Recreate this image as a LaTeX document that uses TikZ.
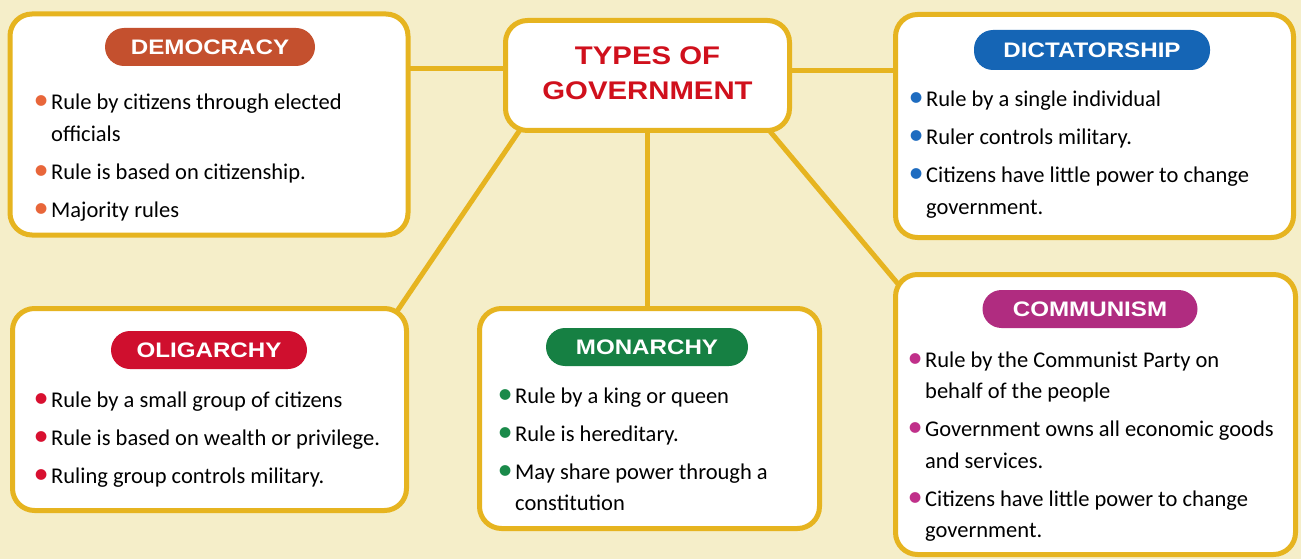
\documentclass[tikz,border=0pt]{standalone}
\usepackage{fontspec}
\setmainfont{Carlito}
\newfontfamily\headfont{Liberation Sans}[FakeStretch=1.15]
\usetikzlibrary{backgrounds,calc}

\definecolor{paper}{HTML}{F5EEC9}
\definecolor{gold}{HTML}{E6B420}
\definecolor{titlered}{HTML}{D0101C}
\definecolor{demc}{HTML}{C4502E}
\definecolor{demb}{HTML}{E8663A}
\definecolor{oligc}{HTML}{CF0F2E}
\definecolor{oligb}{HTML}{D81030}
\definecolor{monc}{HTML}{168043}
\definecolor{monb}{HTML}{1A8A4A}
\definecolor{dictc}{HTML}{1565B5}
\definecolor{dictb}{HTML}{1E6CC0}
\definecolor{commc}{HTML}{B02C80}
\definecolor{commb}{HTML}{C0308A}

% one bullet point: coloured dot, hanging indent for wrapped lines
\newcommand{\itm}[2]{\par\hangindent=14pt\hangafter=1\makebox[14pt][l]{\hspace{-3.5pt}\textcolor{#1}{\scalebox{1.35}{•}}}#2}
% a whole bullet list, top-aligned on its first baseline
\newcommand{\blist}[1]{\parbox[t]{420pt}{\setlength{\parindent}{0pt}\fontsize{22.5}{31.5}\selectfont\setlength{\parskip}{6.5pt}#1}}

\begin{document}
\begin{tikzpicture}[x=1pt,y=-1pt,
  box/.style={draw=gold, line width=5pt, fill=white, rounded corners=22pt, inner sep=0pt},
  pill/.style={fill=#1, rounded corners=19pt, minimum height=38pt, inner sep=0pt,
    text=white, font=\headfont\bfseries\fontsize{21}{24}\selectfont},
  conn/.style={draw=gold, line width=5pt},
  list/.style={anchor=base west, inner sep=0pt}]

\useasboundingbox (0,0) rectangle (1301,559);
\begin{scope}[on background layer]
  \fill[paper] (0,0) rectangle (1301,559);
\end{scope}

% frames
\node[box, minimum width=284pt, minimum height=110pt] (hub)  at (647.5,75.5) {};
\node[box, minimum width=398pt, minimum height=221pt] (dem)  at (209,124.5) {};
\node[box, minimum width=398pt, minimum height=223pt] (dict) at (1094.5,126) {};
\node[box, minimum width=394pt, minimum height=202pt] (olig) at (209.5,409.5) {};
\node[box, minimum width=340pt, minimum height=220pt] (mon)  at (649.5,418.5) {};
\node[box, minimum width=400pt, minimum height=280pt] (comm) at (1095.5,414.5) {};

% central title
\node[align=center, text=titlered, font=\headfont\bfseries\fontsize{25.5}{35}\selectfont]
  (hubT) at (647.5,73) {TYPES OF\\GOVERNMENT};

% headings
\node[pill=demc,  minimum width=210pt] (demT)  at (210,47)  {DEMOCRACY};
\node[pill=oligc, minimum width=196pt] (oligT) at (209,350) {OLIGARCHY};
\node[pill=monc,  minimum width=202pt] (monT)  at (647,347) {MONARCHY};
\node[pill=dictc, minimum width=236pt, minimum height=40pt] (dictT) at (1092,50) {DICTATORSHIP};
\node[pill=commc, minimum width=215pt] (commT) at (1090,309) {COMMUNISM};

% bullet lists
\node[list] (demL) at (37,110) {\blist{%
  \itm{demb}{Rule by citizens through elected\\officials}%
  \itm{demb}{Rule is based on citizenship.}%
  \itm{demb}{Majority rules}}};
\node[list] (oligL) at (37,407) {\blist{%
  \itm{oligb}{Rule by a small group of citizens}%
  \itm{oligb}{Rule is based on wealth or privilege.}%
  \itm{oligb}{Ruling group controls military.}}};
\node[list] (monL) at (501,403) {\blist{%
  \itm{monb}{Rule by a king or queen}%
  \itm{monb}{Rule is hereditary.}%
  \itm{monb}{May share power through a\\constitution}}};
\node[list] (dictL) at (912,107) {\blist{%
  \itm{dictb}{Rule by a single individual}%
  \itm{dictb}{Ruler controls military.}%
  \itm{dictb}{Citizens have little power to change\\government.}}};
\node[list] (commL) at (911,367) {\blist{%
  \itm{commb}{Rule by the Communist Party on\\behalf of the people}%
  \itm{commb}{Government owns all economic goods\\and services.}%
  \itm{commb}{Citizens have little power to change\\government.}}};

% connectors, behind the frames
\begin{scope}[on background layer]
  \draw[conn] ([yshift=7pt]hub.center -| dem.center) -- ([yshift=7pt]hub.center);
  \draw[conn] ([yshift=5pt]hub.center) -- ([yshift=5pt]hub.center -| dict.center);
  \draw[conn] (hub.center) -- (hub.center |- mon.center);
  \draw[conn] ([xshift=25pt,yshift=15pt]hub.south west) -- ([xshift=-24pt,yshift=-23pt]olig.north east);
  \draw[conn] ([xshift=-29pt,yshift=10pt]hub.south east) -- ([xshift=16pt,yshift=-25pt]comm.north west);
\end{scope}
\end{tikzpicture}
\end{document}
